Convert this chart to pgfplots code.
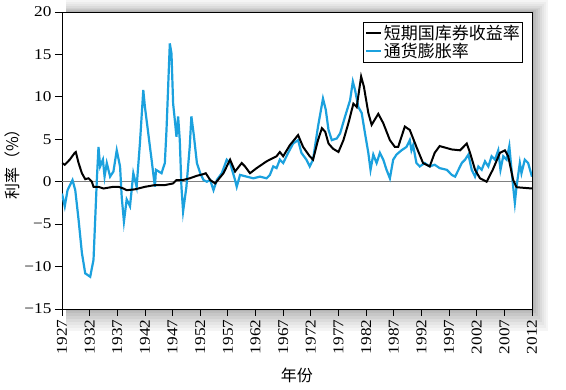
\documentclass[border=0pt]{standalone}
\usepackage{fontspec}
\setmainfont{Liberation Serif}[FakeStretch=1.15]
\newfontfamily\cjk{Noto Sans CJK SC}
\usepackage{pgfplots}
\pgfplotsset{compat=1.18}
\definecolor{infl}{RGB}{27,161,222}
\begin{document}
\begin{tikzpicture}
\path[use as bounding box] (-62pt,-81pt) rectangle (504pt,309pt);
\fill[black!4]  (4pt,-22pt) rectangle (486pt,309pt);
\fill[black!7]  (4pt,-19pt) rectangle (484pt,307pt);
\fill[black!10] (4pt,-16pt) rectangle (482pt,305pt);
\fill[black!14] (4pt,-13pt) rectangle (480pt,303pt);
\fill[black!18] (4pt,-10pt) rectangle (478pt,301pt);
\fill[black!22] (4pt,-7pt)  rectangle (476pt,300pt);
\fill[black!26] (4pt,-4pt)  rectangle (474pt,299pt);
\fill[black!30] (4pt,-2pt)  rectangle (472pt,298pt);
\begin{axis}[
  at={(0pt,0pt)}, anchor=south west,
  scale only axis, width=470pt, height=297pt,
  xmin=1927, xmax=2012, ymin=-15, ymax=20,
  axis background/.style={fill=white},
  xtick={1927,1932,1937,1942,1947,1952,1957,1962,1967,1972,1977,1982,1987,1992,1997,2002,2007,2012},
  ytick={-15,-10,-5,0,5,10,15,20},
  yticklabels={−15,−10,−5,0,5,10,15,20},
  xtick pos=bottom, ytick pos=left, tick align=outside,
  major tick length=7pt,
  xticklabel style={rotate=90, anchor=east, font=\fontsize{15}{15}\selectfont},
  yticklabel style={font=\fontsize{15}{15}\selectfont},
  /pgf/number format/1000 sep={},
  /pgf/number format/assume math mode=true,
  axis line style={black, line width=0.8pt},
  tick style={black, line width=0.8pt},
  xlabel={\cjk 年份},
  ylabel={\cjk 利率（\%）},
  every axis x label/.style={at={(axis description cs:0.5,-0.222)}, anchor=center, font=\fontsize{16}{16}\selectfont},
  every axis y label/.style={at={(axis description cs:-0.106,0.5)}, rotate=90, anchor=center, font=\fontsize{16}{16}\selectfont},
  legend style={at={(0.981,0.966)}, anchor=north east, draw=black, line width=0.6pt,
    font=\cjk\fontsize{17}{18}\selectfont, inner sep=1pt, row sep=-2pt},
  legend cell align=left,
  legend image code/.code={\draw[#1] (0pt,0pt) -- (15pt,0pt);},
]
\addlegendimage{black, line width=2pt}
\addlegendentry{短期国库券收益率}
\addlegendimage{infl, line width=2pt}
\addlegendentry{通货膨胀率}
\addplot[gray, line width=0.5pt, forget plot] coordinates {(1927,0) (2012,0)};
\addplot[infl, line width=2.2pt, forget plot] coordinates {
(1927.0,-1.4) (1927.5,-2.9) (1928.0,-1.0) (1928.6,-0.2) (1928.9,0.2) (1929.4,-1.0)
(1930.0,-4.5) (1930.6,-8.4) (1931.2,-10.8) (1932.1,-11.2) (1932.7,-9.2) (1933.0,-4.5)
(1933.3,0.2) (1933.6,4.1) (1933.9,1.8) (1934.4,2.6) (1934.7,0.6) (1935.1,2.2)
(1935.7,0.6) (1936.3,1.2) (1936.9,3.7) (1937.5,1.8) (1937.8,-1.8) (1938.2,-4.7)
(1938.7,-2.1) (1939.3,-2.9) (1939.9,1.0) (1940.5,-0.6) (1941.1,4.6) (1941.7,10.8)
(1942.0,8.8) (1942.6,5.7) (1943.2,2.6) (1943.8,-0.6) (1944.0,1.4) (1945.0,1.0)
(1945.6,2.2) (1945.9,6.1) (1946.5,16.3) (1946.8,15.1) (1947.1,9.2) (1947.4,7.3)
(1947.7,5.3) (1948.0,7.7) (1948.3,4.9) (1948.6,-0.6) (1948.9,-3.5) (1949.5,-0.6)
(1950.1,4.1) (1950.4,7.7) (1950.8,5.7) (1951.4,2.2) (1952.0,1.0) (1952.6,0.2)
(1953.2,0.0) (1953.8,0.2) (1954.4,-1.0) (1955.0,0.2) (1955.9,1.0) (1956.8,2.6)
(1957.4,2.2) (1958.3,0.2) (1958.6,-0.6) (1959.2,0.8) (1960.4,0.6) (1961.6,0.4)
(1962.8,0.6) (1964.0,0.4) (1964.6,0.8) (1965.2,1.8) (1965.8,1.6) (1966.4,2.6)
(1967.0,2.2) (1967.9,3.4) (1968.8,4.5) (1969.7,4.9) (1970.3,3.4) (1971.2,2.6)
(1971.8,1.8) (1972.4,2.6) (1973.3,6.5) (1974.2,9.8) (1974.7,8.5) (1975.2,6.1)
(1975.8,4.9) (1976.7,5.1) (1977.3,5.7) (1978.2,7.7) (1979.1,9.6) (1979.6,11.8)
(1980.0,10.8) (1980.6,8.8) (1981.2,8.1) (1981.8,5.7) (1982.4,3.4) (1982.8,1.4)
(1983.3,3.2) (1983.9,2.2) (1984.5,3.4) (1985.1,2.6) (1985.7,1.4) (1986.3,0.4)
(1986.9,2.6) (1987.5,3.2) (1988.4,3.7) (1989.3,4.1) (1989.9,4.9) (1990.2,3.7)
(1990.5,4.3) (1991.1,2.2) (1991.7,1.8) (1992.6,2.2) (1993.5,1.8) (1994.4,2.0)
(1995.3,1.6) (1996.6,1.4) (1997.5,0.8) (1998.1,0.6) (1998.7,1.4) (1999.3,2.2)
(1999.9,2.6) (2000.5,3.2) (2001.1,1.4) (2001.7,0.6) (2002.3,1.8) (2002.9,1.4)
(2003.5,2.4) (2004.1,1.8) (2004.7,3.0) (2005.3,2.6) (2005.9,3.7) (2006.3,1.4)
(2006.8,3.0) (2007.4,2.6) (2007.9,4.2) (2008.3,1.4) (2008.6,-0.6) (2008.9,-2.5)
(2009.2,-0.6) (2009.8,2.2) (2010.1,1.0) (2010.7,2.6) (2011.3,2.2) (2012.0,0.6)
};
\addplot[black, line width=2pt, forget plot] coordinates {
(1927.0,2.2) (1927.5,2.0) (1928.4,2.6) (1929.3,3.4) (1929.5,3.5) (1930.0,2.2)
(1930.6,1.0) (1931.2,0.3) (1931.8,0.4) (1932.4,0.0) (1932.7,-0.6) (1933.6,-0.6)
(1934.5,-0.8) (1936.3,-0.6) (1937.2,-0.6) (1938.1,-0.8) (1938.7,-1.0) (1940.2,-0.9)
(1942.0,-0.6) (1943.8,-0.4) (1945.6,-0.4) (1947.1,-0.2) (1947.7,0.2) (1948.9,0.2)
(1950.1,0.4) (1951.4,0.7) (1952.6,0.9) (1953.0,1.0) (1953.8,0.2) (1954.7,-0.2)
(1956.2,1.0) (1957.4,2.6) (1958.3,1.2) (1959.5,2.2) (1960.1,1.8) (1961.0,1.0)
(1962.2,1.6) (1964.0,2.4) (1965.8,3.0) (1966.4,3.5) (1967.0,3.0) (1968.2,4.3)
(1969.7,5.5) (1970.6,4.1) (1971.8,3.0) (1972.4,2.6) (1973.3,4.9) (1974.0,6.3)
(1974.6,5.9) (1975.2,4.5) (1976.0,3.9) (1977.0,3.5) (1977.9,4.9) (1978.8,6.9)
(1979.7,9.2) (1980.3,8.8) (1981.1,12.4) (1981.6,11.2) (1982.4,8.1) (1983.0,6.7)
(1984.2,8.0) (1985.1,6.9) (1986.3,4.9) (1987.2,4.1) (1987.8,4.1) (1989.0,6.5)
(1989.9,6.1) (1991.1,4.1) (1992.3,2.2) (1993.5,1.8) (1994.4,3.4) (1995.3,4.2)
(1997.5,3.8) (1999.0,3.7) (2000.2,4.5) (2000.8,3.4) (2001.7,1.4) (2002.6,0.4)
(2003.8,0.0) (2004.9,1.4) (2006.2,3.4) (2007.1,3.7) (2007.7,3.0) (2008.6,0.2)
(2009.2,-0.65) (2012.0,-0.8)
};
\end{axis}
\end{tikzpicture}
\end{document}
